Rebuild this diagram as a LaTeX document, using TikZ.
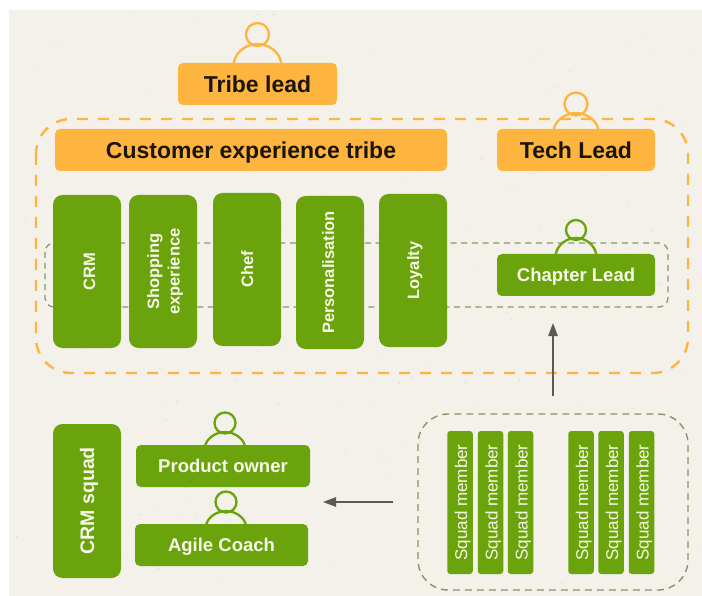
\documentclass[tikz,border=0pt]{standalone}
\usepackage{fontspec}
\setmainfont{Liberation Sans}
\usetikzlibrary{arrows.meta}
\definecolor{paper}{HTML}{F3F1EA}
\definecolor{speck}{HTML}{B9B5A8}
\definecolor{amber}{HTML}{FDB53F}
\definecolor{leaf}{HTML}{6BA30C}
\definecolor{dashgreen}{HTML}{7F9A66}
\definecolor{arrowgrey}{HTML}{5A5A58}
\definecolor{ink}{HTML}{1C1408}
\definecolor{cream}{HTML}{F6F8E8}
\tikzset{
  amberbox/.style={fill=amber,rounded corners=5pt,inner sep=0pt,text=ink,text height=16.5pt,text depth=0pt,font=\bfseries\fontsize{23}{25}\selectfont},
  leafbox/.style={fill=leaf,rounded corners=5pt,inner sep=0pt,text=cream,text height=13.4pt,text depth=0pt,font=\bfseries\fontsize{18.5}{21}\selectfont},
  column/.style={fill=leaf,inner sep=0pt,text=cream,rotate=90,rounded corners=9.5pt,minimum width=153pt,minimum height=68pt,align=center,font=\bfseries\fontsize{16.5}{20.5}\selectfont},
  memberbox/.style={fill=leaf,rotate=90,rounded corners=3pt,inner sep=0pt,minimum width=143pt,minimum height=25.5pt,text=cream,text height=14pt,text depth=0pt,font=\fontsize{17}{19}\selectfont},
  amberdash/.style={draw=amber,line width=2.4pt,dash pattern=on 11pt off 10pt},
  greendash/.style={draw=dashgreen,line width=1.2pt,dash pattern=on 6pt off 4.7pt},
  squaddash/.style={draw=dashgreen,line width=1.4pt,dash pattern=on 7pt off 5pt},
  flow/.style={draw=arrowgrey,line width=1.2pt,-{Triangle[length=13pt,width=9.5pt]}},
}
% centre x, head y, head radius, half width, base y, top y, colour
\newcommand{\personicon}[7]{%
  \draw[#7,line width=2.3pt] (#1,#2) circle (#3pt);
  \draw[#7,line width=2.3pt] (#1-#4,#5) .. controls (#1-#4+2,#6+6) and (#1-9,#6) .. (#1,#6)
     .. controls (#1+9,#6) and (#1+#4-2,#6+6) .. (#1+#4,#5);
}
\begin{document}
\begin{tikzpicture}[x=1pt,y=-1pt]
\useasboundingbox (0,0) rectangle (702,596);
\fill[paper] (9,10) rectangle (702,596);
\pgfmathsetseed{4711}
\foreach \i in {1,...,260}{
  \pgfmathsetmacro{\sx}{12+rnd*687}
  \pgfmathsetmacro{\sy}{13+rnd*580}
  \pgfmathsetmacro{\sr}{0.25+rnd*0.5}
  \fill[speck,opacity=0.45] (\sx,\sy) circle (\sr pt);
}

% dashed frames
\draw[amberdash,rounded corners=35pt] (36,119) rectangle (688,373);
\draw[greendash,rounded corners=9pt] (45,243) rectangle (668,307);
\draw[squaddash,rounded corners=30pt] (418,414) rectangle (688,590);

% person icons
\personicon{257.5}{34.5}{11.5}{24}{64}{44}{amber}
\personicon{576}{104}{11.5}{22.5}{130}{113}{amber}
\personicon{576}{230}{10}{20.5}{255}{238}{leaf}
\personicon{225}{423}{10.5}{20}{446}{432}{leaf}
\personicon{226}{502}{10.5}{20}{525}{511}{leaf}

% amber titles
\node[amberbox,minimum width=159pt,minimum height=42pt] (tribelead) at (257.5,84) {Tribe lead};
\node[amberbox,minimum width=392pt,minimum height=42pt] (tribe) at (251,150) {Customer experience tribe};
\node[amberbox,minimum width=158pt,minimum height=42pt] (techlead) at (576,150) {Tech Lead};

% tribe columns
\node[column,text height=16pt,text depth=0pt] (crm) at (87,271.5) {CRM};
\node[column] (shopping) at (163,271.5) {\rule{0pt}{16pt}Shopping\\experience};
\node[column,text height=12pt,text depth=0pt] (chef) at (247,269.5) {Chef};
\node[column,text height=12pt,text depth=4pt] (personal) at (330,272.5) {Personalisation};
\node[column,text height=12pt,text depth=0pt] (loyalty) at (413,270.5) {Loyalty};

\node[leafbox,minimum width=158pt,minimum height=42pt] (chapter) at (576,275) {Chapter Lead};

% CRM squad
\node[column,minimum width=154pt,text height=14pt,text depth=0pt,font=\bfseries\fontsize{19.6}{22}\selectfont] (squad) at (87,501) {CRM squad};
\node[leafbox,minimum width=174pt,minimum height=42pt] (owner) at (223,466) {Product owner};
\node[leafbox,minimum width=173pt,minimum height=42pt] (coach) at (221.5,545) {Agile Coach};

% squad members
\node[memberbox] (m1) at (460,502.5) {Squad member};
\node[memberbox] (m2) at (490.5,502.5) {Squad member};
\node[memberbox] (m3) at (520.5,502.5) {Squad member};
\node[memberbox] (m4) at (581,502.5) {Squad member};
\node[memberbox] (m5) at (611,502.5) {Squad member};
\node[memberbox] (m6) at (641.5,502.5) {Squad member};

% arrows
\coordinate (upfrom) at (553,396);
\coordinate (upto) at (553,323);
\coordinate (leftfrom) at (393,502);
\coordinate (leftto) at (323,502);
\draw[flow] (upfrom) -- (upto);
\draw[flow] (leftfrom) -- (leftto);
\end{tikzpicture}
\end{document}
